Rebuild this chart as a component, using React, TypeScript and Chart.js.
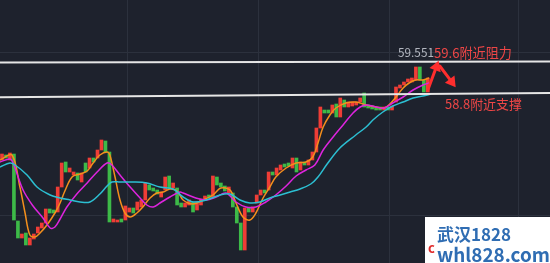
import React, { useEffect, useRef } from "react";
import { Chart, registerables } from "chart.js";

Chart.register(...registerables);

// ---- Data (prices) ----
const candleOpen = [
  57.15, 57.275, 57.15, 57.3, 55.625, 55.2, 55.325, 55.025, 55.175, 55.325,
  55.45, 55.575, 55.925, 55.9, 55.85, 56.475, 57.1, 56.85, 56.775, 56.825,
  56.6, 57.075, 56.95, 57.2, 57.2, 57.4, 57.625, 57.35, 55.6, 55.6,
  55.675, 55.65, 55.85, 55.95, 55.9, 55.975, 56.15, 56.525, 56.45, 56.4,
  56.225, 56.4, 56.75, 56.45, 56.45, 56.075, 55.975, 56.025, 56.1, 55.9,
  56.025, 56.15, 56.275, 56.225, 56.725, 56.575, 56.5, 56.325, 56.325, 55.975,
  55.575, 54.9, 55.95, 55.85, 56.075, 56.275, 56.4, 56.4, 56.85, 56.775,
  56.9, 57.05, 57.075, 56.95, 57.2, 56.9, 57.1, 57.025, 57.15, 57.35,
  57.95, 58.4, 58.4, 58.325, 58.55, 58.225, 58.65, 58.475, 58.5, 58.525,
  58.6, 58.825, 58.525, 58.5, 58.475, 58.475, 58.4, 58.475, 58.4, 58.6,
  58.95, 59.025, 59.1, 59.1, 59.15, 59.475, 59.15, 58.85,
];
const candleClose = [
  57.3, 57.2, 57.325, 55.65, 55.2, 55.3, 55.025, 55.2, 55.3, 55.475,
  55.575, 55.925, 55.825, 55.825, 56.475, 57.075, 56.85, 56.95, 56.85, 56.65,
  56.825, 56.85, 57.2, 57.1, 57.4, 57.65, 57.35, 55.6, 55.675, 55.65,
  55.6, 56.0, 55.95, 55.825, 56.1, 56.15, 56.575, 56.4, 56.375, 56.3,
  56.35, 56.725, 56.45, 56.575, 56.025, 55.975, 56.075, 56.15, 55.85, 56.1,
  56.175, 56.25, 56.2, 56.75, 56.525, 56.475, 56.375, 56.475, 55.975, 55.575,
  54.9, 55.95, 55.85, 55.975, 56.275, 56.4, 56.325, 56.85, 56.775, 56.95,
  57.025, 56.975, 57.0, 57.2, 56.85, 57.1, 57.025, 57.15, 57.35, 57.95,
  58.475, 58.325, 58.325, 58.525, 58.225, 58.7, 58.475, 58.6, 58.6, 58.6,
  58.7, 58.475, 58.45, 58.425, 58.4, 58.4, 58.475, 58.4, 58.5, 58.975,
  59.025, 59.1, 59.175, 59.2, 59.475, 59.15, 58.85, 59.2,
];

// moving averages: [bar index, price]
const maFast: [number, number][] = [
  [-0.5, 57.15], [2.5, 57.275], [4.5, 56.475], [5.8, 55.825], [7.0, 55.275], [8.3, 55.225],
  [9.55, 55.325], [11.3, 55.525], [13.3, 55.825], [14.6, 56.075], [15.8, 56.375], [17.6, 56.725],
  [19.6, 56.8], [21.4, 56.875], [22.9, 57.075], [24.6, 57.275], [26.4, 57.35], [27.1, 57.275],
  [28.4, 56.725], [29.65, 56.15], [30.9, 55.825], [32.2, 55.725], [33.9, 55.825], [35.4, 55.975],
  [37.2, 56.2], [38.9, 56.325], [40.5, 56.35], [42.2, 56.425], [44.0, 56.375], [45.5, 56.15],
  [48.0, 56.05], [50.5, 56.15], [53.0, 56.275], [55.0, 56.45], [57.3, 56.4], [58.8, 56.075],
  [60.55, 55.725], [62.3, 55.65], [63.8, 55.825], [65.6, 56.2], [67.3, 56.475], [68.8, 56.725],
  [71.4, 56.95], [73.9, 57.075], [76.4, 57.1], [78.1, 57.225], [79.4, 57.575], [80.7, 57.975],
  [82.4, 58.275], [83.9, 58.45], [86.4, 58.575], [88.9, 58.6], [91.5, 58.525], [94.0, 58.475],
  [96.0, 58.45], [97.2, 58.525], [99.0, 58.725], [100.8, 58.95], [102.3, 59.075], [104.0, 59.15],
  [105.8, 59.15], [107.3, 59.2],
];
const maMid: [number, number][] = [
  [-0.5, 57.1], [2.0, 57.175], [2.8, 57.075], [5.3, 56.4], [7.8, 56.0], [10.3, 55.7],
  [12.1, 55.45], [13.3, 55.475], [14.6, 55.675], [16.3, 55.975], [18.8, 56.3], [21.4, 56.575],
  [23.9, 56.85], [26.4, 57.075], [27.6, 57.025], [29.65, 56.775], [32.2, 56.475], [34.7, 56.2],
  [36.4, 56.025], [38.0, 55.975], [39.7, 56.075], [42.2, 56.225], [44.7, 56.35], [45.5, 56.325],
  [48.7, 56.2], [51.3, 56.15], [53.8, 56.225], [56.3, 56.325], [58.8, 56.1], [61.3, 55.975],
  [63.8, 55.975], [66.3, 56.1], [68.8, 56.275], [71.4, 56.5], [73.9, 56.75], [76.4, 56.9],
  [78.6, 57.025], [80.7, 57.4], [83.2, 57.725], [85.7, 58.025], [88.2, 58.325], [90.0, 58.475],
  [91.5, 58.525], [94.0, 58.475], [96.0, 58.45], [98.2, 58.575], [100.8, 58.725], [103.3, 58.9],
  [105.8, 59.025], [107.3, 59.075],
];
const maSlow: [number, number][] = [
  [-0.5, 56.975], [2.0, 57.075], [3.3, 57.025], [6.3, 56.775], [8.8, 56.475], [12.1, 56.275],
  [14.6, 56.2], [17.1, 56.15], [19.6, 56.1], [22.1, 56.1], [24.6, 56.3], [26.4, 56.5],
  [27.6, 56.6], [29.65, 56.6], [32.9, 56.6], [36.4, 56.575], [39.7, 56.475], [43.0, 56.425],
  [45.5, 56.225], [48.0, 56.1], [51.3, 56.15], [54.8, 56.275], [57.3, 56.3], [59.8, 56.15],
  [62.3, 56.075], [64.8, 56.1], [67.3, 56.2], [69.9, 56.275], [72.4, 56.35], [74.9, 56.425],
  [77.6, 56.55], [79.4, 56.725], [81.7, 57.05], [84.9, 57.45], [88.9, 57.775], [91.5, 57.975],
  [93.2, 58.15], [95.7, 58.35], [98.2, 58.5], [100.8, 58.6], [103.3, 58.7], [105.8, 58.75],
  [107.8, 58.8],
];

// drawn trend lines
const resistanceLine: [number, number][] = [[-0.5, 59.59], [137.7, 59.61]];
const supportLine: [number, number][] = [[-0.5, 58.72], [137.7, 58.825]];

// zig-zag arrow (bar index, price)
const arrowUp: [number, number][] = [[107.0, 58.9], [109.7, 59.63]];
const arrowDown: [number, number][] = [[110.0, 59.5], [114.0, 58.97]];

const xGrid = [31.4, 64.3, 97.2, 129.6];
const yGrid = [59.85, 55.775];

const priceLabel = "59.551";
const resistanceLabel = "59.6附近阻力";
const supportLabel = "58.8附近支撑";
const brandTop = "武汉1828";
const brandBottom = "whl828.com";

const X_MIN = -0.5;
const X_MAX = 137.7;
const Y_MIN = 54.575;
const Y_MAX = 61.15;

const BG = "#1e222d";
const GRID = "#2c313d";
const UP = "#ef3d36";
const DOWN = "#3dba48";
const FONT = "'Noto Sans CJK SC', 'Noto Sans', sans-serif";

function fitText(ctx: CanvasRenderingContext2D, text: string, x: number, y: number, width: number, weight: string, color: string) {
  ctx.font = `${weight} 20px ${FONT}`;
  const w = ctx.measureText(text).width;
  const size = (20 * width) / w;
  ctx.font = `${weight} ${size}px ${FONT}`;
  ctx.fillStyle = color;
  ctx.fillText(text, x, y);
}

function drawArrow(ctx: CanvasRenderingContext2D, x1: number, y1: number, x2: number, y2: number) {
  const ang = Math.atan2(y2 - y1, x2 - x1);
  const head = 10;
  const half = 6;
  const bx = x2 - Math.cos(ang) * head;
  const by = y2 - Math.sin(ang) * head;
  ctx.beginPath();
  ctx.moveTo(x1, y1);
  ctx.lineTo(bx, by);
  ctx.stroke();
  ctx.beginPath();
  ctx.moveTo(x2, y2);
  ctx.lineTo(bx + Math.cos(ang + Math.PI / 2) * half, by + Math.sin(ang + Math.PI / 2) * half);
  ctx.lineTo(bx + Math.cos(ang - Math.PI / 2) * half, by + Math.sin(ang - Math.PI / 2) * half);
  ctx.closePath();
  ctx.fill();
}

const decorPlugin = {
  id: "decor",
  beforeDraw(chart: any) {
    const { ctx, width, height } = chart;
    ctx.save();
    ctx.fillStyle = BG;
    ctx.fillRect(0, 0, width, height);
    ctx.restore();
  },
  beforeDatasetsDraw(chart: any) {
    const { ctx, chartArea } = chart;
    const xs = chart.scales.x;
    const ys = chart.scales.y;
    ctx.save();
    ctx.strokeStyle = GRID;
    ctx.lineWidth = 1;
    xGrid.forEach((v) => {
      const px = Math.round(xs.getPixelForValue(v)) + 0.5;
      ctx.beginPath();
      ctx.moveTo(px, chartArea.top);
      ctx.lineTo(px, chartArea.bottom);
      ctx.stroke();
    });
    yGrid.forEach((v) => {
      const py = Math.round(ys.getPixelForValue(v)) + 0.5;
      ctx.beginPath();
      ctx.moveTo(chartArea.left, py);
      ctx.lineTo(chartArea.right, py);
      ctx.stroke();
    });
    ctx.restore();
  },
  afterDraw(chart: any) {
    const { ctx } = chart;
    const xs = chart.scales.x;
    const ys = chart.scales.y;
    const P = (p: [number, number]) => [xs.getPixelForValue(p[0]), ys.getPixelForValue(p[1])];
    ctx.save();
    // arrow
    ctx.strokeStyle = "#ff2e2e";
    ctx.fillStyle = "#ff2e2e";
    ctx.lineWidth = 3;
    ctx.lineCap = "round";
    const [a1x, a1y] = P(arrowUp[0]);
    const [a2x, a2y] = P(arrowUp[1]);
    drawArrow(ctx, a1x, a1y, a2x, a2y);
    const [b1x, b1y] = P(arrowDown[0]);
    const [b2x, b2y] = P(arrowDown[1]);
    drawArrow(ctx, b1x, b1y, b2x, b2y);

    // labels
    ctx.textBaseline = "middle";
    ctx.textAlign = "left";
    fitText(ctx, priceLabel, 398, 53, 36, "normal", "#b3b7c0");
    fitText(ctx, resistanceLabel, 434, 53, 78, "normal", "#ee4646");
    fitText(ctx, supportLabel, 445, 104, 77, "normal", "#ee4646");

    // watermark
    ctx.fillStyle = "#ffffff";
    ctx.fillRect(425, 217, 125, 46);
    ctx.textBaseline = "alphabetic";
    fitText(ctx, brandTop, 437, 241, 74, "bold", "#2f6db3");
    fitText(ctx, brandBottom, 437, 262, 113, "bold", "#2f6db3");
    ctx.font = `bold 13px ${FONT}`;
    ctx.fillStyle = "#e02a2a";
    ctx.fillText("c", 428, 253);
    ctx.restore();
  },
};

export default function App() {
  const ref = useRef<HTMLCanvasElement | null>(null);
  useEffect(() => {
    if (!ref.current) return;
    const bars = candleOpen.map((o, i) => ({ x: i, y: [o, candleClose[i]] }));
    const barColors = candleOpen.map((o, i) => (candleClose[i] >= o ? UP : DOWN));
    const line = (pts: [number, number][], color: string, width: number, tension: number, order: number) => ({
      type: "line" as const,
      data: pts.map(([x, y]) => ({ x, y })),
      borderColor: color,
      borderWidth: width,
      pointRadius: 0,
      tension,
      fill: false,
      order,
    });
    const chart = new Chart(ref.current, {
      type: "bar",
      data: {
        datasets: [
          {
            type: "bar",
            data: bars as any,
            backgroundColor: barColors,
            barThickness: 3,
            order: 3,
          } as any,
          line(maSlow, "#2cbfd2", 1.5, 0.35, 2),
          line(maMid, "#de24de", 1.5, 0.35, 2),
          line(maFast, "#f48f1c", 1.5, 0.35, 2),
          line(resistanceLine, "#e6e6e6", 2, 0, 1),
          line(supportLine, "#e6e6e6", 2, 0, 1),
        ] as any,
      },
      options: {
        responsive: false,
        animation: false,
        layout: { padding: 0 },
        plugins: { legend: { display: false }, tooltip: { enabled: false } },
        scales: {
          x: { type: "linear", display: false, min: X_MIN, max: X_MAX, offset: false },
          y: { type: "linear", display: false, min: Y_MIN, max: Y_MAX },
        },
      },
      plugins: [decorPlugin],
    });
    return () => chart.destroy();
  }, []);
  return (
    <div style={{ position: "fixed", left: 0, top: 0, width: 550, height: 263 }}>
      <canvas ref={ref} width={550} height={263} style={{ display: "block" }} />
    </div>
  );
}
